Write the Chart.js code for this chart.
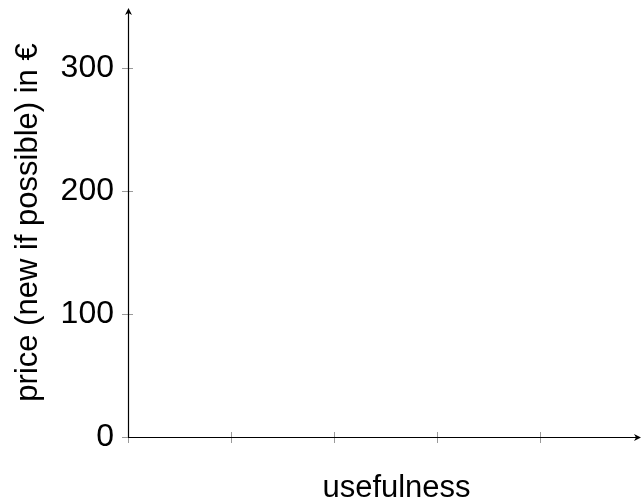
<!DOCTYPE html>
<html>
<head>
<meta charset="utf-8">
<title>price vs usefulness</title>
<script src="https://cdn.jsdelivr.net/npm/chart.js@4.4.1/dist/chart.umd.min.js"></script>
<style>
  html, body { margin: 0; padding: 0; background: #fff; }
  #wrap { width: 644px; height: 500px; }
</style>
</head>
<body>
<div id="wrap"><canvas id="chart" width="644" height="500"></canvas></div>
<script>
// data (the plot is empty, only the axes are shown)
var usefulness = [];
var prices = [];
var xTicks = [0, 1, 2, 3, 4];
var yTicks = [0, 100, 200, 300];
var xMax = 4.98;
var yMax = 349;
var xTitle = "usefulness";
var yTitle = "price (new if possible) in €";

var FONT = "'Liberation Sans', Arial, Helvetica, sans-serif";

var points = usefulness.map(function (u, i) {
  return { x: u, y: prices[i] };
});

// axis lines with arrow heads and small crossing tick marks
var axesPlugin = {
  id: "axes",
  afterDraw: function (chart) {
    var ctx = chart.ctx;
    var xs = chart.scales.x;
    var ys = chart.scales.y;
    var x0 = xs.getPixelForValue(0);
    var y0 = ys.getPixelForValue(0);
    var xEnd = xs.getPixelForValue(xMax);
    var yEnd = ys.getPixelForValue(yMax);
    ctx.save();

    // ticks
    ctx.strokeStyle = "#9a9a9a";
    ctx.lineWidth = 1;
    ctx.beginPath();
    xTicks.forEach(function (v) {
      var px = Math.round(xs.getPixelForValue(v)) + 0.5;
      ctx.moveTo(px, y0 - 5);
      ctx.lineTo(px, y0 + 6);
    });
    yTicks.forEach(function (v) {
      var py = Math.round(ys.getPixelForValue(v)) + 0.5;
      ctx.moveTo(x0 - 6, py);
      ctx.lineTo(x0 + 5, py);
    });
    ctx.stroke();

    // axis lines
    ctx.strokeStyle = "#000";
    ctx.lineWidth = 1.2;
    ctx.beginPath();
    var ax = Math.round(x0) + 0.5;
    var ay = Math.round(y0) + 0.5;
    ctx.moveTo(ax, y0);
    ctx.lineTo(ax, yEnd + 4);
    ctx.moveTo(x0, ay);
    ctx.lineTo(xEnd - 4, ay);
    ctx.stroke();

    // arrow heads (small stealth shape)
    ctx.fillStyle = "#000";
    ctx.beginPath();
    ctx.moveTo(ax, yEnd);
    ctx.lineTo(ax + 3.5, yEnd + 7);
    ctx.lineTo(ax, yEnd + 5);
    ctx.lineTo(ax - 3.5, yEnd + 7);
    ctx.closePath();
    ctx.moveTo(xEnd, ay);
    ctx.lineTo(xEnd - 7, ay + 3.5);
    ctx.lineTo(xEnd - 5, ay);
    ctx.lineTo(xEnd - 7, ay - 3.5);
    ctx.closePath();
    ctx.fill();

    // x axis title
    ctx.font = "31px " + FONT;
    ctx.textAlign = "center";
    ctx.textBaseline = "alphabetic";
    ctx.fillText(xTitle, (chart.chartArea.left + chart.chartArea.right) / 2 + 12, 497);
    ctx.restore();
  }
};

var chart = new Chart(document.getElementById("chart").getContext("2d"), {
  type: "scatter",
  data: {
    datasets: [
      {
        label: "items",
        data: points,
        backgroundColor: "#000",
        borderColor: "#000",
        pointRadius: 3,
      },
    ],
  },
  options: {
    responsive: false,
    animation: false,
    layout: { padding: { left: 0, right: 3, top: 8, bottom: 0 } },
    plugins: {
      legend: { display: false },
      tooltip: { enabled: false },
    },
    scales: {
      x: {
        type: "linear",
        min: 0,
        max: xMax,
        grid: { display: false },
        border: { display: false },
        ticks: { display: false },
        afterBuildTicks: function (s) {
          s.ticks = xTicks.map(function (v) { return { value: v }; });
        },
        afterFit: function (s) {
          s.height = 63;
          s.paddingLeft = 0;
          s.paddingRight = 0;
        },
      },
      y: {
        type: "linear",
        min: 0,
        max: yMax,
        grid: { display: false },
        border: { display: false },
        ticks: {
          color: "#000",
          padding: 6,
          font: { family: FONT, size: 32 },
        },
        afterBuildTicks: function (s) {
          s.ticks = yTicks.map(function (v) { return { value: v }; });
        },
        title: {
          display: true,
          text: yTitle,
          color: "#000",
          padding: { top: 10, bottom: 0 },
          font: { family: FONT, size: 31 },
        },
        afterFit: function (s) {
          s.width = 128;
          s.paddingTop = 0;
          s.paddingBottom = 0;
        },
      },
    },
  },
  plugins: [axesPlugin],
});
</script>
</body>
</html>
